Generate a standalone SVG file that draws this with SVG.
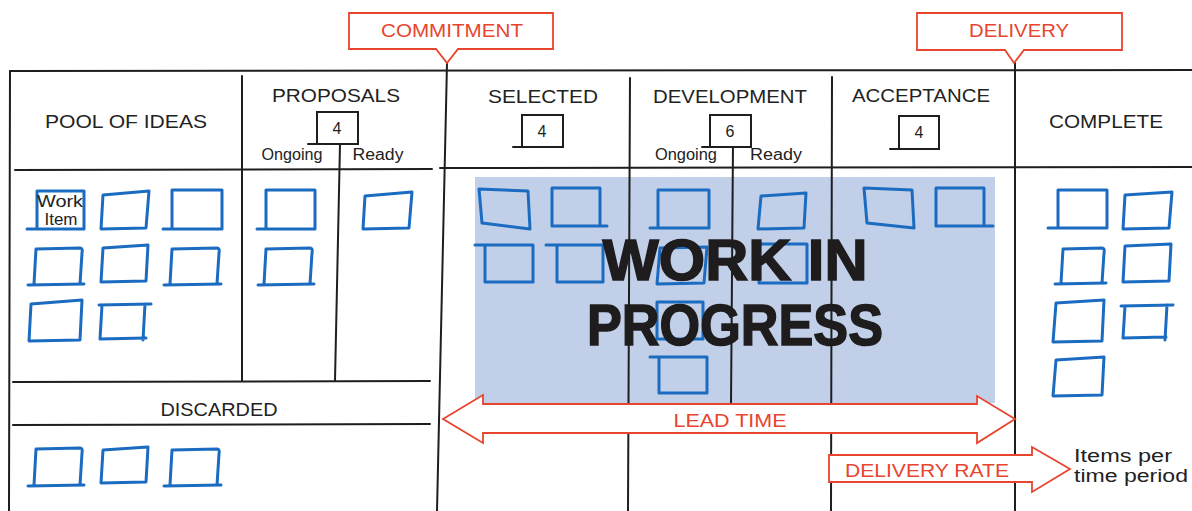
<svg xmlns="http://www.w3.org/2000/svg" width="1192" height="511" viewBox="0 0 1192 511">
<style>
.ln{stroke:#1e1e1e;stroke-width:2;fill:none;stroke-linecap:round}
.wi{stroke:#1b6cc1;stroke-width:3;fill:none;stroke-linecap:round;stroke-linejoin:round}
.hw{font-family:"Liberation Sans",Arial,sans-serif;font-size:18px;fill:#222}
.sm{font-family:"Liberation Sans",Arial,sans-serif;font-size:16px;fill:#222}
.rd{font-family:"Liberation Sans",Arial,sans-serif;font-size:18px;fill:#e8452f}
.rs{stroke:#e8452f;stroke-width:1.8;fill:#fff;stroke-linejoin:miter}
.lim{stroke:#1e1e1e;stroke-width:2;fill:#fff}
.big{font-family:"Liberation Sans",Arial,sans-serif;font-weight:bold;font-size:58px;fill:#1e1c1d;stroke:#1e1c1d;stroke-width:1.5}
</style>
<rect width="1192" height="511" fill="#fff"/>
<rect id="wip-area" x="475" y="177" width="520" height="226" fill="#c1cfe8"/>
<g id="grid">
<path class="ln" d="M10,71 L1192,70"/>
<path class="ln" d="M10,71 L9,511"/>
<path class="ln" d="M15,170 L432,169 M440,168 L1192,167"/>
<path class="ln" d="M242,76 L242,381"/>
<path class="ln" d="M340,144 L335,381"/>
<path class="ln" d="M13,382 L430,381 M13,425 L430,424"/>
<path class="ln" d="M447,63 L437,511"/>
<path class="ln" d="M630,78 L628,511"/>
<path class="ln" d="M733,144 L731,404"/>
<path class="ln" d="M832,77 L831,511"/>
<path class="ln" d="M1015,63 L1015,511"/>
</g>
<g id="headers">
<text class="hw" x="126" y="128" text-anchor="middle" textLength="162" lengthAdjust="spacingAndGlyphs">POOL OF IDEAS</text>
<text class="hw" x="336" y="102" text-anchor="middle" textLength="128" lengthAdjust="spacingAndGlyphs">PROPOSALS</text>
<text class="hw" x="543" y="103" text-anchor="middle" textLength="110" lengthAdjust="spacingAndGlyphs">SELECTED</text>
<text class="hw" x="730" y="103" text-anchor="middle" textLength="154" lengthAdjust="spacingAndGlyphs">DEVELOPMENT</text>
<text class="hw" x="921" y="102" text-anchor="middle" textLength="138" lengthAdjust="spacingAndGlyphs">ACCEPTANCE</text>
<text class="hw" x="1106" y="128" text-anchor="middle" textLength="114" lengthAdjust="spacingAndGlyphs">COMPLETE</text>
<text class="hw" x="219" y="416" text-anchor="middle" textLength="117" lengthAdjust="spacingAndGlyphs">DISCARDED</text>
<text class="sm" x="292" y="160" text-anchor="middle" textLength="61" lengthAdjust="spacingAndGlyphs">Ongoing</text>
<text class="sm" x="378" y="160" text-anchor="middle" textLength="51" lengthAdjust="spacingAndGlyphs">Ready</text>
<text class="sm" x="686" y="160" text-anchor="middle" textLength="62" lengthAdjust="spacingAndGlyphs">Ongoing</text>
<text class="sm" x="776" y="160" text-anchor="middle" textLength="52" lengthAdjust="spacingAndGlyphs">Ready</text>
</g>
<g id="limits">
<g id="limit-proposals"><rect class="lim" x="317" y="112" width="41" height="32"/><path class="ln" d="M308,144 H317"/><text class="sm" x="337" y="134" text-anchor="middle">4</text></g>
<g id="limit-selected"><rect class="lim" x="522" y="115" width="41" height="32"/><path class="ln" d="M513,147 H522"/><text class="sm" x="542" y="137" text-anchor="middle">4</text></g>
<g id="limit-development"><rect class="lim" x="710" y="115" width="41" height="32"/><path class="ln" d="M702,147 H710"/><text class="sm" x="730" y="137" text-anchor="middle">6</text></g>
<g id="limit-acceptance"><rect class="lim" x="899" y="116" width="40" height="33"/><path class="ln" d="M890,149 H899"/><text class="sm" x="919" y="138" text-anchor="middle">4</text></g>
</g>
<g id="pool-items">
<path class="wi" d="M37,191 H84 V229 H37 Z M27,229 H37"/>
<text class="sm" x="60" y="207" text-anchor="middle" font-size="15" textLength="46" lengthAdjust="spacingAndGlyphs">Work</text>
<text class="sm" x="61" y="225" text-anchor="middle" font-size="15" textLength="33" lengthAdjust="spacingAndGlyphs">Item</text>
<path class="wi" d="M103,195 L149,191 L146,228 L101,229 Z"/>
<path class="wi" d="M172,190 H222 V229 H172 Z M163,229 H172"/>
<path class="wi" d="M34,284 L36,249 L80,248 Q83,248 82,253 L80,284 M28,285 L84,284"/>
<path class="wi" d="M103,248 L148,245 L146,281 L101,282 Z"/>
<path class="wi" d="M170,284 L172,249 L217,248 Q220,248 219,253 L217,284 M164,285 L221,284"/>
<path class="wi" d="M31,304 L82,300 L80,340 L29,341 Z"/>
<path class="wi" d="M99,305 L151,304 M102,305 L100,339 L146,338 M145,304 L143,340"/>
</g>
<g id="proposals-items">
<path class="wi" d="M266,190 H315 V229 H266 Z M257,229 H266"/>
<path class="wi" d="M264,284 L266,249 L310,248 Q313,248 312,253 L310,284 M258,285 L314,284"/>
<path class="wi" d="M365,196 L412,192 L409,228 L363,229 Z"/>
</g>
<g id="discarded-items">
<path class="wi" d="M34,485 L36,449 L80,448 Q83,448 82,453 L80,485 M28,486 L84,485"/>
<path class="wi" d="M103,450 L148,447 L146,482 L101,483 Z"/>
<path class="wi" d="M170,485 L172,450 L217,449 Q220,449 219,454 L217,485 M164,486 L221,485"/>
</g>
<g id="selected-items">
<path class="wi" d="M479,189 L528,191 L530,229 L482,223 Z"/>
<path class="wi" d="M600,188 H552 V226 H607 M600,188 V226"/>
<path class="wi" d="M475,245 H533 V282 H485 V245"/>
<path class="wi" d="M546,245 H603 V282 H557 V245"/>
</g>
<g id="development-items">
<path class="wi" d="M658,190 H709 V228 H658 Z M650,228 H658"/>
<path class="wi" d="M660,248 L707,247 L704,283 L657,284 Z"/>
<path class="wi" d="M657,302 H703 V339 H657 Z"/>
<path class="wi" d="M650,357 H707 V393 H659 V357"/>
<path class="wi" d="M761,196 L806,193 L804,228 L758,229 Z"/>
<path class="wi" d="M759,244 H807 V283 H759 Z"/>
</g>
<g id="acceptance-items">
<path class="wi" d="M864,188 L912,190 L914,228 L867,223 Z"/>
<path class="wi" d="M936,188 H984 V226 H936 Z M984,226 H993"/>
</g>
<g id="complete-items">
<path class="wi" d="M1058,190 H1107 V228 H1058 Z M1048,228 H1058"/>
<path class="wi" d="M1125,195 L1172,192 L1169,228 L1123,229 Z"/>
<path class="wi" d="M1061,283 L1063,249 L1102,248 Q1105,248 1104,253 L1102,283 M1055,284 L1106,283"/>
<path class="wi" d="M1125,246 L1171,244 L1169,281 L1123,282 Z"/>
<path class="wi" d="M1056,303 L1104,300 L1102,341 L1053,342 Z"/>
<path class="wi" d="M1121,306 L1173,305 M1125,306 L1123,338 L1166,337 M1167,305 L1165,340"/>
<path class="wi" d="M1056,360 L1104,357 L1102,395 L1053,396 Z"/>
</g>
<g id="wip-label">
<text class="big" x="735" y="280" text-anchor="middle" textLength="265" lengthAdjust="spacingAndGlyphs">WORK IN</text>
<text class="big" x="735" y="345" text-anchor="middle" textLength="296" lengthAdjust="spacingAndGlyphs">PROGRESS</text>
</g>
<g id="connectors">
<g id="lead-time">
<path class="rs" d="M443,419 L483,395 L483,404 L977,404 L977,396 L1015,419 L977,443 L977,433 L483,433 L483,443 Z"/>
<text class="rd" x="730" y="427" text-anchor="middle" textLength="113" lengthAdjust="spacingAndGlyphs">LEAD TIME</text>
</g>
<g id="delivery-rate">
<path class="rs" d="M829,455 L1032,455 L1032,447 L1070,469 L1032,492 L1032,482 L829,482 Z"/>
<text class="rd" x="927" y="477" text-anchor="middle" textLength="164" lengthAdjust="spacingAndGlyphs">DELIVERY RATE</text>
</g>
</g>
<g id="items-per-period">
<text class="hw" x="1074" y="462" textLength="98" lengthAdjust="spacingAndGlyphs">Items per</text>
<text class="hw" x="1074" y="482" textLength="114" lengthAdjust="spacingAndGlyphs">time period</text>
</g>
<g id="commitment">
<path class="rs" d="M349,13 H553 V49 H458 L447,63 L436,49 H349 Z"/>
<text class="rd" x="452" y="37" text-anchor="middle" textLength="142" lengthAdjust="spacingAndGlyphs">COMMITMENT</text>
</g>
<g id="delivery">
<path class="rs" d="M917,13 H1122 V50 H1024 L1014,63 L1005,50 H917 Z"/>
<text class="rd" x="1019" y="37" text-anchor="middle" textLength="100" lengthAdjust="spacingAndGlyphs">DELIVERY</text>
</g>
</svg>
